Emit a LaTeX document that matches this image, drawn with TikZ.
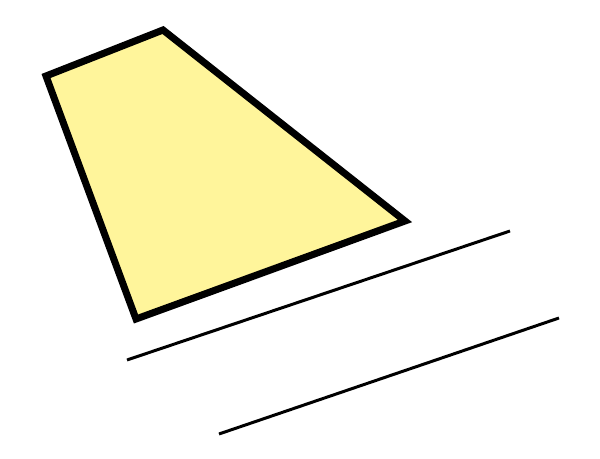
\documentclass[tikz,border=0pt]{standalone}
\usepackage{tikz}
\usepackage{xcolor}
\definecolor{paleyellow}{RGB}{255,245,155}

\begin{document}
\begin{tikzpicture}[x=0.02cm,y=-0.02cm,
    plate/.style={draw=black,fill=paleyellow,line width=4pt,line join=miter},
    rail/.style={draw=black,line width=1.7pt}]
    \useasboundingbox (0,0) rectangle (600,459);
    % Quadrilateral
    \draw[plate] (46,76) -- (163,30) -- (405,221) -- (136,319) -- cycle;
    % Two parallel lines
    \draw[rail] (127,360) -- (510,231);
    \draw[rail] (219,434) -- (559,318);
\end{tikzpicture}
\end{document}
